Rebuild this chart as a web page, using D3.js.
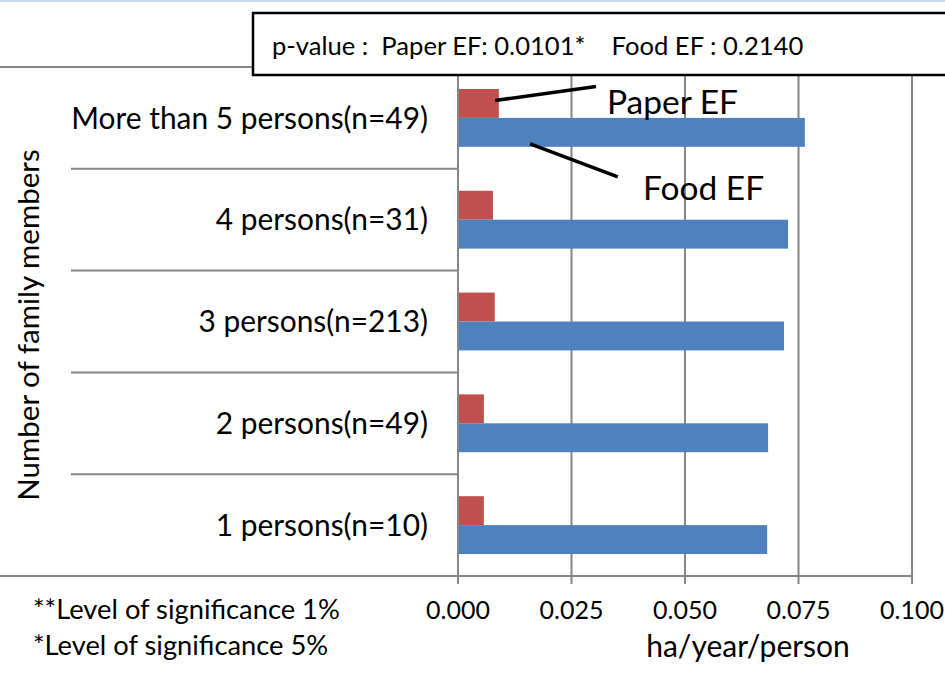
<!DOCTYPE html>
<html><head><meta charset="utf-8">
<script src="https://cdn.jsdelivr.net/npm/d3@7"></script>
<style>
html,body{margin:0;padding:0;background:#fff;}
svg{display:block;font-family:Lato,"Open Sans",sans-serif;}
</style></head>
<body><svg id="chart" width="945" height="676"></svg>
<script>
const categories = ["More than 5 persons(n=49)", "4 persons(n=31)", "3 persons(n=213)", "2 persons(n=49)", "1 persons(n=10)"];
const seriesNames = ["Paper EF", "Food EF"];
const paperEF = [0.0090, 0.0077, 0.0081, 0.0057, 0.0057];
const foodEF  = [0.0764, 0.0727, 0.0718, 0.0683, 0.0681];
const xTicks = [0, 0.025, 0.05, 0.075, 0.1];
const pValueText = "p-value :  Paper EF: 0.0101*    Food EF : 0.2140";
const footnotes = ["**Level of significance 1%", "*Level of significance 5%"];
const xTitle = "ha/year/person";
const yTitle = "Number of family members";

const svg = d3.select("#chart");
const L = 458, R = 912, T = 67, B = 576;
const grid = "#868686";

const x = d3.scaleLinear().domain([0, 0.1]).range([L, R]);
const y = d3.scaleBand().domain(categories).range([T, B]).padding(0);
const ys = d3.scaleBand().domain(seriesNames).range([0, y.bandwidth()]).paddingInner(0).paddingOuter(0.76);
const colors = {"Paper EF": "#C0504D", "Food EF": "#4F81BD"};

// top light strip
svg.append("rect").attr("x",0).attr("y",0).attr("width",945).attr("height",2).attr("fill","#c6d9f1");

// vertical gridlines
svg.append("g").selectAll("line").data(xTicks).join("line")
  .attr("x1", d => x(d)).attr("x2", d => x(d)).attr("y1", T).attr("y2", B + 8)
  .attr("stroke", grid).attr("stroke-width", 2);

// top border line and bottom axis line
svg.append("line").attr("x1",0).attr("x2",R).attr("y1",T).attr("y2",T).attr("stroke",grid).attr("stroke-width",2);
svg.append("line").attr("x1",0).attr("x2",R).attr("y1",B).attr("y2",B).attr("stroke",grid).attr("stroke-width",2);

// category separators
svg.append("g").selectAll("line").data(categories.slice(1)).join("line")
  .attr("x1", 71).attr("x2", L).attr("y1", d => y(d)).attr("y2", d => y(d))
  .attr("stroke", grid).attr("stroke-width", 2);

// bars
const rows = categories.map((c,i) => ({cat:c, vals:[{s:"Paper EF", v:paperEF[i]},{s:"Food EF", v:foodEF[i]}]}));
const g = svg.append("g").selectAll("g").data(rows).join("g")
  .attr("transform", d => `translate(0,${y(d.cat)})`);
g.selectAll("rect").data(d => d.vals).join("rect")
  .attr("x", x(0) + 1).attr("y", d => ys(d.s))
  .attr("width", d => x(d.v) - x(0) - 1).attr("height", ys.bandwidth())
  .attr("fill", d => colors[d.s]);

// category labels
svg.append("g").selectAll("text").data(categories).join("text")
  .attr("x", 428).attr("y", d => y(d) + y.bandwidth()/2).attr("dy", "0.36em")
  .attr("text-anchor", "end").attr("font-size", 29.9).attr("fill", "#000").text(d => d);

// tick labels
svg.append("g").selectAll("text").data(xTicks).join("text")
  .attr("x", d => x(d)).attr("y", 619).attr("text-anchor", "middle")
  .attr("font-size", 25).attr("fill", "#000").text(d => d3.format(".3f")(d));

// x title
svg.append("text").attr("x", 748).attr("y", 657).attr("text-anchor","middle")
  .attr("font-size", 30).text(xTitle);

// y title
svg.append("text").attr("transform", "translate(39,325) rotate(-90)").attr("text-anchor","middle")
  .attr("font-size", 29.5).text(yTitle);

// footnotes
svg.append("g").selectAll("text").data(footnotes).join("text")
  .attr("x", 33).attr("y", (d,i) => 619 + i*36).attr("font-size", 27.3).text(d => d);

// p-value box
svg.append("rect").attr("x", 253).attr("y", 13).attr("width", 700).attr("height", 62)
  .attr("fill", "#fff").attr("stroke", "#000").attr("stroke-width", 2.5);
svg.append("text").attr("x", 272).attr("y", 55).attr("font-size", 25.6).attr("xml:space","preserve")
  .style("white-space","pre").text(pValueText);

// annotations (leader lines)
const c0 = categories[0];
const pY = y(c0) + ys("Paper EF") + ys.bandwidth()/2;
const fY = y(c0) + ys("Food EF") + ys.bandwidth();
svg.append("line").attr("x1", x(0.0082)).attr("y1", pY - 3).attr("x2", x(0.0304)).attr("y2", pY - 17)
  .attr("stroke", "#000").attr("stroke-width", 3.5);
svg.append("line").attr("x1", x(0.0159)).attr("y1", fY - 3).attr("x2", x(0.0352)).attr("y2", fY + 30)
  .attr("stroke", "#000").attr("stroke-width", 3.5);
svg.append("text").attr("x", 607).attr("y", 114).attr("font-size", 33.5).text("Paper EF");
svg.append("text").attr("x", 643).attr("y", 200).attr("font-size", 33.5).text("Food EF");
</script></body></html>
